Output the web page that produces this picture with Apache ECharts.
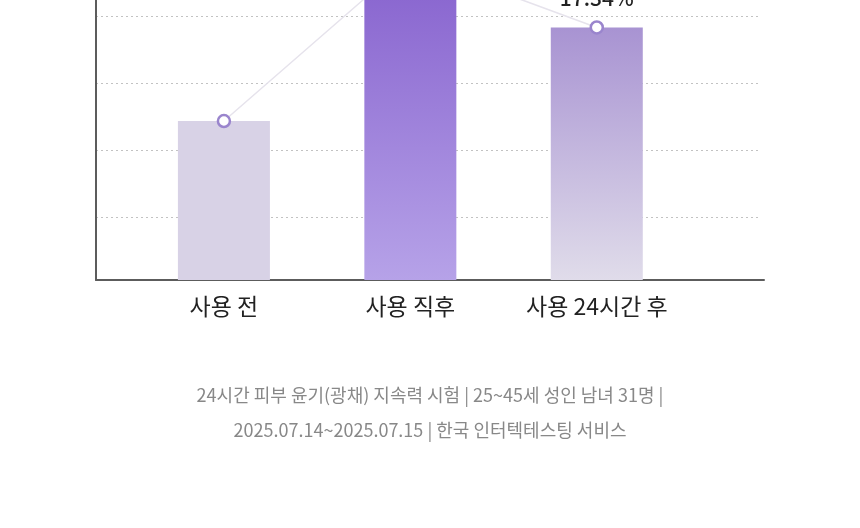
<!DOCTYPE html>
<html>
<head>
<meta charset="utf-8">
<script src="https://cdn.jsdelivr.net/npm/echarts@6/dist/echarts.min.js"></script>
<style>
html,body{margin:0;padding:0;background:#fff;overflow:hidden;width:860px;height:528px;}
#chart{position:absolute;left:0;top:-130px;width:860px;height:658px;}
</style>
</head>
<body>
<div id="chart"></div>
<script>
const categories = ['사용 전', '사용 직후', '사용 24시간 후'];
const values = [23.8, 48.1, 37.8];
const pointLabels = ['', '', '17.34%'];
const yTicksMax = 60;
const yInterval = 10;
const footnote = ['24시간 피부 윤기(광채) 지속력 시험 | 25~45세 성인 남녀 31명 |', '2025.07.14~2025.07.15 | 한국 인터텍테스팅 서비스'];

const FONT = '"Noto Sans CJK KR", "Noto Sans", sans-serif';
const barColors = [
  '#d8d2e6',
  {type:'linear',x:0,y:0,x2:0,y2:1,colorStops:[{offset:0,color:'#8560cd'},{offset:1,color:'#b6a2e8'}]},
  {type:'linear',x:0,y:0,x2:0,y2:1,colorStops:[{offset:0,color:'#a893d2'},{offset:1,color:'#e0dcea'}]}
];

const chart = echarts.init(document.getElementById('chart'), null, {renderer:'canvas'});
chart.setOption({
  animation:false,
  backgroundColor:'#fff',
  graphic: footnote.map((t,i)=>({
    type:'text', x:430, y:525 + i*35, silent:true,
    style:{text:t, align:'center', verticalAlign:'middle', font:'400 18px ' + FONT, fill:'#888888'}
  })),
  grid:[
    {left:96, right:96, top:0, bottom:248},
    {left:96, right:100, top:13, bottom:244.2},
    {left:130.7, right:170, top:9.2, bottom:248}
  ],
  xAxis:[
    {gridIndex:0, type:'value', min:0, max:1, axisLine:{show:true, onZero:false, lineStyle:{color:'#5c5c5c', width:2}}, axisTick:{show:false}, axisLabel:{show:false}, splitLine:{show:false}},
    {gridIndex:1, type:'value', min:0, max:1, show:false},
    {gridIndex:2, type:'category', data:categories, axisLine:{show:false}, axisTick:{show:false},
     axisLabel:{margin:15, fontFamily:FONT, fontSize:23, fontWeight:400, color:'#222'}}
  ],
  yAxis:[
    {gridIndex:0, type:'value', min:0, max:yTicksMax, axisLine:{show:true, lineStyle:{color:'#5c5c5c', width:2}}, axisTick:{show:false}, axisLabel:{show:false}, splitLine:{show:false}},
    {gridIndex:1, type:'value', min:0, max:yTicksMax, interval:yInterval, axisLine:{show:false}, axisTick:{show:false}, axisLabel:{show:false},
     splitLine:{show:true, showMinLine:false, showMaxLine:false, lineStyle:{color:'#c2c2c2', width:1, type:[2,3]}}},
    {gridIndex:2, type:'value', min:0, max:yTicksMax, show:false}
  ],
  series:[
    {type:'bar', xAxisIndex:2, yAxisIndex:2, barWidth:92, z:3,
     data: values.map((v,i)=>({value:v, itemStyle:{color:barColors[i]}}))},
    {type:'line', xAxisIndex:2, yAxisIndex:2, z:5, data: values.map((v,i)=>({value:v, label:{show:pointLabels[i]!=='', formatter:pointLabels[i]}})),
     symbol:'circle', symbolSize:12,
     lineStyle:{color:'#e6e3ec', width:1.5},
     itemStyle:{color:'#fff', borderColor:'#9a85cd', borderWidth:2.5},
     label:{position:'top', distance:12, fontFamily:FONT, fontSize:21, fontWeight:500, color:'#222'}}
  ]
});
</script>
</body>
</html>
